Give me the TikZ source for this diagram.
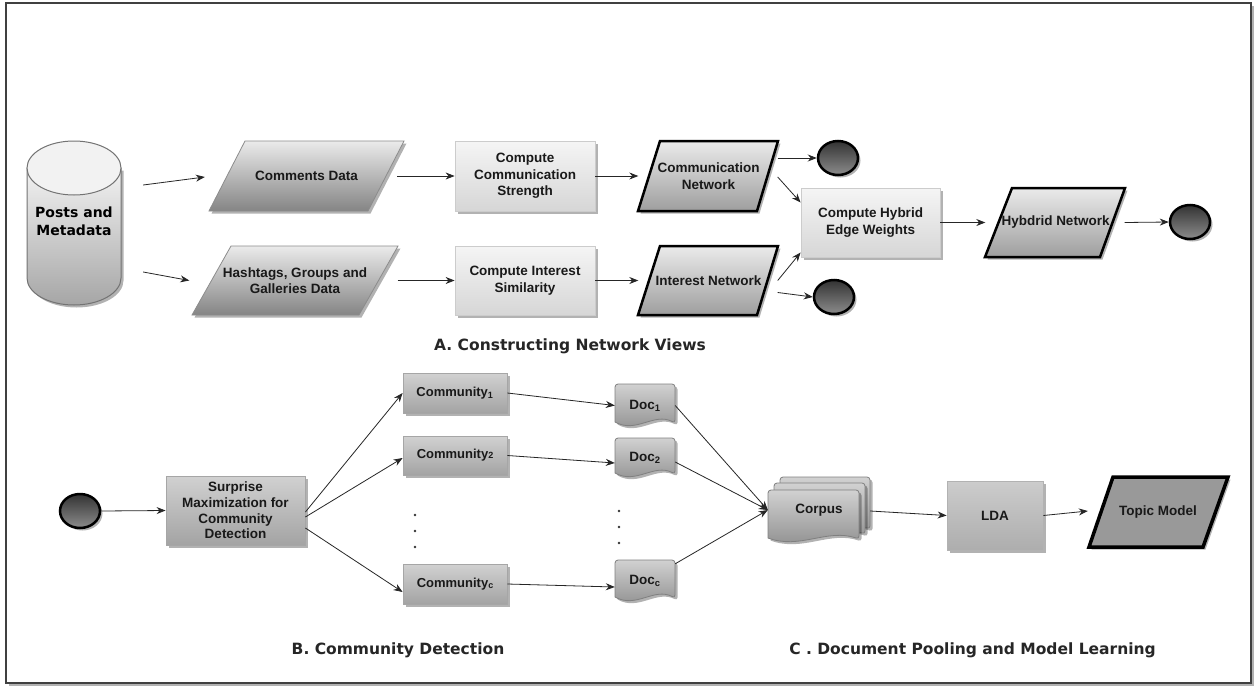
\documentclass[tikz,border=0pt]{standalone}
\usepackage{fontspec}
\setmainfont{Liberation Sans}
\newfontfamily\dvs{DejaVu Sans}
\usetikzlibrary{shapes.geometric,shadows,arrows.meta,calc}
\tikzset{
  shd/.style={drop shadow={shadow xshift=2.5pt,shadow yshift=-2.5pt,opacity=0.3,fill=black}},
  txt/.style={font=\bfseries\fontsize{13.5}{16.5}\selectfont,align=center,inner sep=0pt,text=black!90},
  hole/.style={txt,minimum height=70},
  databox/.style={draw=black!45,line width=0.8pt,top color=black!8,bottom color=black!48,shd},
  netbox/.style={draw=black,line width=2.5pt,top color=black!8,bottom color=black!38,shd},
  topicbox/.style={draw=black,line width=3.5pt,fill=black!40,shd},
  compbox/.style={txt,rectangle,draw=black!20,line width=0.8pt,top color=black!4,bottom color=black!16,shd},
  graybox/.style={txt,rectangle,draw=black!35,line width=0.8pt,top color=black!18,bottom color=black!36,shd},
  ldabox/.style={txt,rectangle,draw=black!30,line width=0.8pt,top color=black!20,bottom color=black!32,shd},
  docbox/.style={draw=black!50,line width=0.8pt,top color=black!18,bottom color=black!45,shd},
  term/.style={ellipse,draw=black,line width=2.5pt,top color=black!80,bottom color=black!45,minimum width=40,minimum height=34,inner sep=0pt,shd},
  arr/.style={-{Stealth[length=9pt,width=7pt]},line width=0.8pt,draw=black!85},
  titletext/.style={font=\dvs\bfseries\fontsize{15.5}{18}\selectfont,inner sep=0pt,text=black!85},
}
\newcommand\docshape[5]{%
  \draw[#1,rounded corners=3pt] (#2,{#5-5}) -- (#2,#3) -- (#4,#3) -- (#4,{#5-4}) [sharp corners]
    .. controls ({#2+0.65*(#4-#2)},{#5-15}) and ({#2+0.35*(#4-#2)},{#5+7}) .. (#2,{#5-5}) -- cycle;}
\begin{document}
\begin{tikzpicture}[x=1pt,y=-1pt]
\useasboundingbox (0,0) rectangle (1257,688);
\fill[white] (0,0) rectangle (1257,688);
\draw[line width=2.5pt,draw=black!75,fill=white,shd] (6,3) rectangle (1251,683);

% ---------- A. Constructing network views ----------
% cylinder
\draw[draw=black!55,line width=1pt,top color=black!5,bottom color=black!35,shd]
  (27,168) -- (27,278) arc[start angle=180,end angle=0,x radius=47,y radius=27] -- (121,168) -- cycle;
\draw[draw=black!55,line width=1pt,fill=black!5] (74,168) ellipse[x radius=47,y radius=27];
\node[minimum width=94,minimum height=164,inner sep=0pt,align=center,
      font=\dvs\bfseries\fontsize{14}{18}\selectfont] (pm) at (74,221) {Posts and\\Metadata};

% data parallelograms
\draw[databox] (245,141) -- (404,141) -- (368,211) -- (209,211) -- cycle;
\node[hole,minimum width=159] (cd) at (306.5,176) {Comments Data};
\draw[databox] (231,246) -- (398,246) -- (359,315) -- (192,315) -- cycle;
\node[hole,minimum width=167] (hg) at (295,280.5) {Hashtags, Groups and\\Galleries Data};

% compute boxes
\node[compbox,minimum width=140,minimum height=70] (ccs) at (525,176) {Compute\\Communication\\Strength};
\node[compbox,minimum width=140,minimum height=69] (cis) at (525,280.5) {Compute Interest\\Similarity};

% network parallelograms
\draw[netbox] (660,141) -- (778,141) -- (757,211) -- (638,211) -- cycle;
\node[hole,minimum width=118] (cn) at (708.5,176) {Communication\\Network};
\draw[netbox] (660,246) -- (778,246) -- (757,315) -- (638,315) -- cycle;
\node[hole,minimum width=118] (in) at (708.5,280.5) {Interest Network};

\node[compbox,minimum width=139,minimum height=69] (hy) at (870.5,222.5) {Compute Hybrid\\Edge Weights};

\draw[netbox] (1012,188) -- (1125,188) -- (1100,257) -- (985,257) -- cycle;
\node[hole,minimum width=114] (hn) at (1055.5,222.5) {Hybdrid Network};

\node[term] (t1) at (838,158) {};
\node[term] (t2) at (834,297) {};
\node[term] (t3) at (1190,222) {};

\draw[arr] ($(pm.east)+(22,-36)$) -- ($(cd.west)+(-22,1)$);
\draw[arr] ($(pm.east)+(22,51)$) -- ($(hg.west)+(-22,0)$);
\draw[arr] ($(cd.east)+(11,0)$) -- (ccs.west);
\draw[arr] ($(hg.east)+(19,0)$) -- (cis.west);
\draw[arr] (ccs.east) -- ($(cn.west)+(-11,0)$);
\draw[arr] (cis.east) -- ($(in.west)+(-11,0)$);
\draw[arr] ($(cn.east)+(10,-18)$) -- (t1.west);
\draw[arr] ($(cn.east)+(10,1)$) -- ($(hy.west)+(0,-20)$);
\draw[arr] ($(in.east)+(10,0)$) -- ($(hy.west)+(0,30)$);
\draw[arr] ($(in.east)+(10,12)$) -- (t2.west);
\draw[arr] (hy.east) -- ($(hn.west)+(-13,0)$);
\draw[arr] ($(hn.east)+(12,0)$) -- (t3.west);

\node[titletext] (ta) at (570,346) {A. Constructing Network Views};

% ---------- B. Community detection ----------
\node[term] (t4) at (80,511) {};
\node[graybox,minimum width=139,minimum height=69,font=\bfseries\fontsize{13.5}{15.7}\selectfont] (sm) at (235.5,510.5)
  {Surprise\\Maximization for\\Community\\Detection};
\node[graybox,minimum width=104,minimum height=40,font=\bfseries\fontsize{13}{15}\selectfont] (c1) at (455,393) {Community\textsubscript{1}};
\node[graybox,minimum width=104,minimum height=39,font=\bfseries\fontsize{13}{15}\selectfont] (c2) at (455,455.5) {Community{\fontsize{9}{9}\selectfont 2}};
\node[graybox,minimum width=104,minimum height=40,font=\bfseries\fontsize{13}{15}\selectfont] (cc) at (455,584) {Community\raisebox{-1pt}{\fontsize{9}{9}\selectfont c}};
\foreach \yy in {515,531,547} \fill[black!80] (415,\yy) circle[radius=1.3];

\draw[arr] (t4.east) -- (sm.west);
\draw[arr] ($(sm.east)+(0,1.5)$) -- (c1.west);
\draw[arr] ($(sm.east)+(0,6.5)$) -- ($(c2.west)+(0,2.5)$);
\draw[arr] ($(sm.east)+(0,17.5)$) -- ($(cc.west)+(0,8)$);

\node[titletext] (tb) at (398,650) {B. Community Detection};

% ---------- C. Document pooling ----------
\docshape{docbox}{615}{384}{675}{427}
\node[txt,minimum width=60,minimum height=38] (d1) at (645,405.5) {Doc\textsubscript{1}};
\docshape{docbox}{615}{438}{675}{478}
\node[txt,minimum width=60,minimum height=36] (d2) at (645,458) {Doc\textsubscript{2}};
\docshape{docbox}{615}{560}{675}{602}
\node[txt,minimum width=60,minimum height=38] (dc) at (645,581) {Doc\textsubscript{c}};
\foreach \yy in {511,527,543} \fill[black!80] (619,\yy) circle[radius=1.3];

\draw[arr] (c1.east) -- (d1.west);
\draw[arr] (c2.east) -- ($(d2.west)+(0,5)$);
\draw[arr] (cc.east) -- ($(dc.west)+(0,6)$);

\docshape{docbox}{780}{477}{870}{533}
\docshape{docbox}{774}{483}{865}{538}
\docshape{docbox}{768}{490}{859}{543}
\node[txt,minimum width=102,minimum height=50] (co) at (819,510) {Corpus};

\draw[arr] (d1.east) -- (co.west);
\draw[arr] ($(d2.east)+(0,4)$) -- (co.west);
\draw[arr] ($(dc.north east)+(0,2)$) -- (co.west);

\node[ldabox,minimum width=96,minimum height=69] (lda) at (995,515.5) {LDA};
\draw[topicbox] (1113,477) -- (1228,477) -- (1203,547) -- (1089,547) -- cycle;
\node[hole,minimum width=114] (tm) at (1158,512) {Topic Model};

\draw[arr] ($(co.east)+(0,1)$) -- (lda.west);
\draw[arr] (lda.east) -- ($(tm.west)+(-13,-1)$);

\node[titletext] (tc) at (972.5,650) {C . Document Pooling and Model Learning};
\end{tikzpicture}
\end{document}
